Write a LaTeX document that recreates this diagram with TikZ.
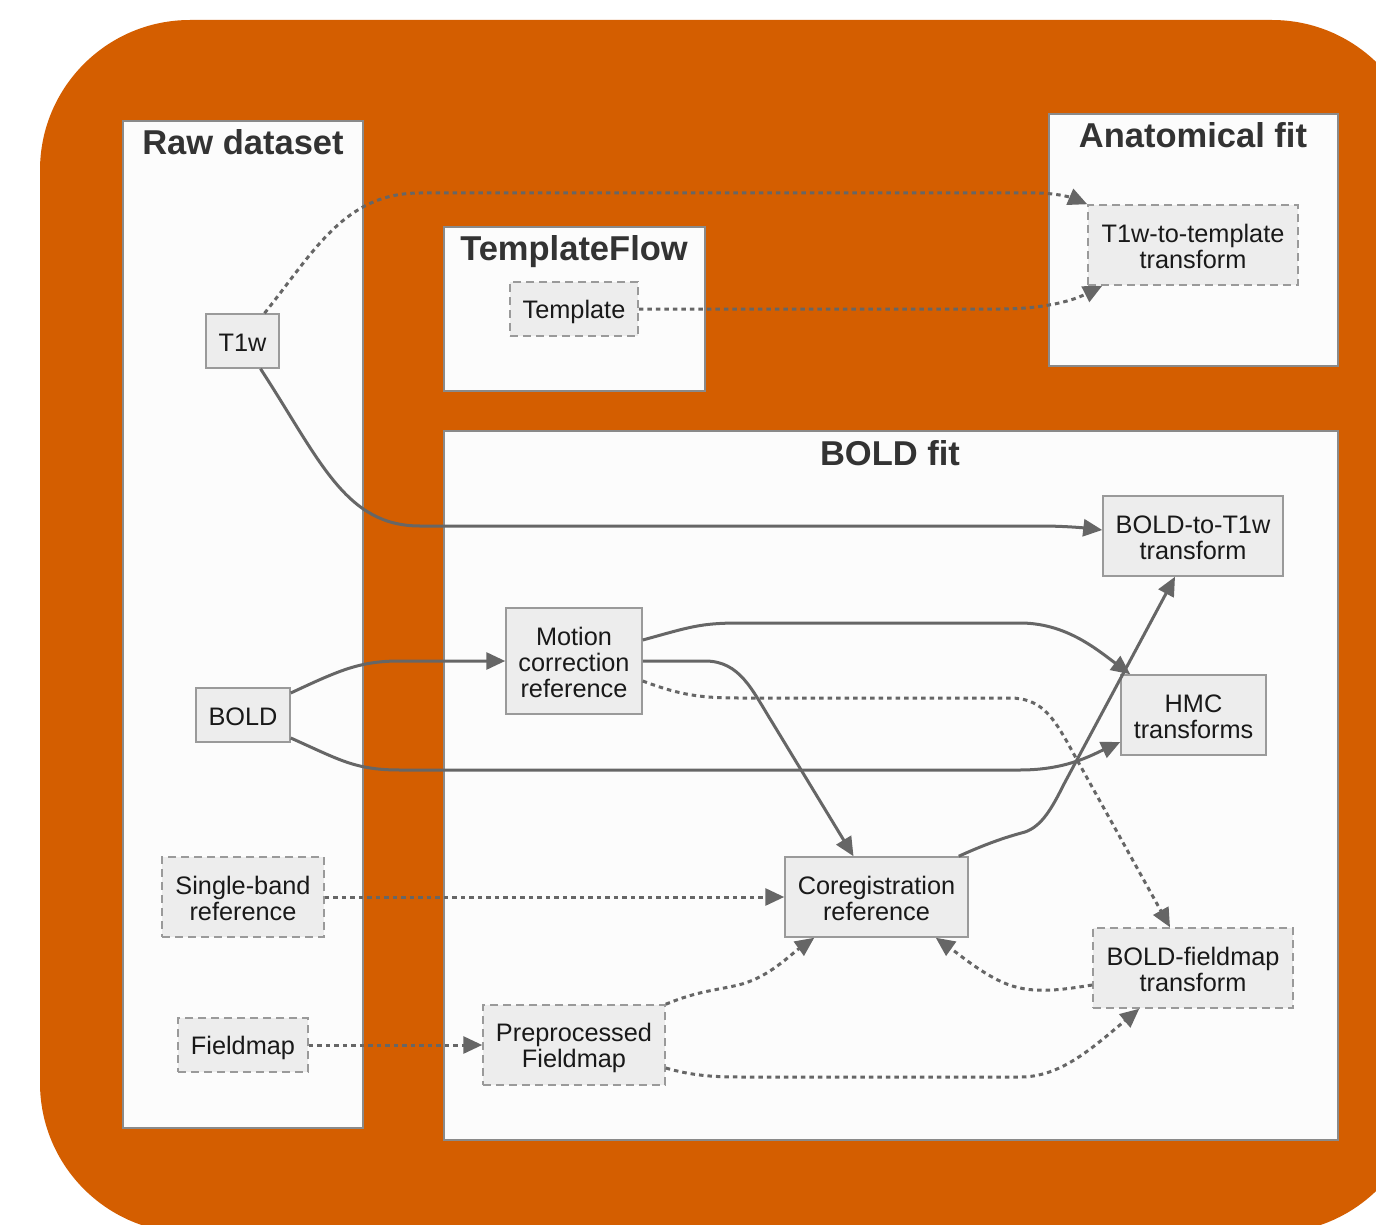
\documentclass[tikz,border=0pt]{standalone}
\usepackage{fontspec}
\setmainfont{Liberation Sans}
\usetikzlibrary{arrows.meta,calc}
\definecolor{orng}{HTML}{D45E00}
\definecolor{edgegray}{HTML}{666666}
\definecolor{boxborder}{HTML}{9A9A9A}
\definecolor{boxfill}{HTML}{EDEDED}
\definecolor{clusterfill}{HTML}{FCFCFC}
\definecolor{clusterborder}{HTML}{8A8A8A}
\definecolor{titlecol}{HTML}{333333}
\newcommand{\nodefont}{\fontsize{25.3}{26}\selectfont}
\newcommand{\titlefont}{\fontsize{34.5}{37}\selectfont\bfseries}
\newcommand{\fl}{\rule{0pt}{25pt}}
\tikzset{
  box/.style={draw=boxborder, line width=1.5pt, fill=boxfill, inner sep=0pt, align=center, font=\nodefont, text=black!90,
    execute at begin node={\fl}, execute at end node={\rule[-4pt]{0pt}{4pt}}},
  dbox/.style={box, dash pattern=on 8pt off 5pt},
  cluster/.style={draw=clusterborder, line width=2pt, fill=clusterfill},
  ctitle/.style={anchor=base, font=\titlefont, text=titlecol, inner sep=0pt},
  edge/.style={draw=edgegray, line width=3pt, -{Triangle[length=19pt,width=17pt]}},
  dedge/.style={edge, dash pattern=on 4.5pt off 4pt},
}
\begin{document}
\begin{tikzpicture}[x=1pt,y=1pt]
\useasboundingbox (0,0) rectangle (1376,-1225);
\fill[white] (0,0) rectangle (1376,-1225);
\begin{scope}
\clip (0,0) rectangle (1376,-1225);
\fill[orng, rounded corners=150pt] (40,-20) rectangle (1422,-1233);
\end{scope}

% clusters
\draw[cluster] (123,-121) rectangle (363,-1128);
\draw[cluster] (1049,-114) rectangle (1338,-366);
\draw[cluster] (444,-227) rectangle (705,-391);
\draw[cluster] (444,-431) rectangle (1338,-1140);
\node[ctitle] (traw) at (243,-155) {Raw dataset};
\node[ctitle] (tanat) at (1193,-148) {Anatomical fit};
\node[ctitle] (ttf) at (574,-261) {TemplateFlow};
\node[ctitle] (tbold) at (890,-465) {BOLD fit};

% nodes
\node[box, minimum width=73pt, minimum height=54pt] (t1w) at (242.5,-341) {T1w};
\node[dbox, minimum width=128pt, minimum height=54pt] (tmpl) at (574,-309) {Template};
\node[dbox, minimum width=210pt, minimum height=80pt] (t2t) at (1193,-245) {\fl T1w-to-template\\transform};
\node[box, minimum width=180pt, minimum height=80pt] (b2t) at (1193,-536) {\fl BOLD-to-T1w\\transform};
\node[box, minimum width=136pt, minimum height=106pt] (mcr) at (574,-661) {\fl Motion\\correction\\reference};
\node[box, minimum width=145pt, minimum height=80pt] (hmc) at (1193.5,-715) {\fl HMC\\transforms};
\node[box, minimum width=94pt, minimum height=54pt] (bold) at (243,-715) {BOLD};
\node[dbox, minimum width=162pt, minimum height=80pt] (sbr) at (243,-897) {\fl Single-band\\reference};
\node[box, minimum width=183pt, minimum height=80pt] (coreg) at (876.5,-897) {\fl Coregistration\\reference};
\node[dbox, minimum width=200pt, minimum height=80pt] (bft) at (1193,-968) {\fl BOLD-fieldmap\\transform};
\node[dbox, minimum width=130pt, minimum height=54pt] (fmap) at (243,-1045) {Fieldmap};
\node[dbox, minimum width=182pt, minimum height=80pt] (pfm) at (574,-1045) {\fl Preprocessed\\Fieldmap};

% edges
\draw[dedge] ([xshift=22pt]t1w.north) .. controls (315,-250) and (345,-193) .. (420,-193)
  -- (1035,-193) .. controls (1060,-193) and (1075,-199) .. (t2t.north west);
\draw[dedge] (tmpl.east) -- (1000,-309) .. controls (1040,-309) and (1070,-302) .. ([xshift=15pt]t2t.south west);
\draw[edge] ([xshift=18pt]t1w.south) .. controls (320,-460) and (345,-526) .. (420,-526)
  -- (1040,-526) .. controls (1065,-526) and (1085,-528) .. ([yshift=6pt]b2t.west);
\draw[edge] ([yshift=22pt]bold.east) .. controls (340,-670) and (360,-661) .. (400,-661) -- (mcr.west);
\draw[edge] ([yshift=-23pt]bold.east) .. controls (340,-760) and (355,-770) .. (400,-770)
  -- (1020,-770) .. controls (1065,-770) and (1090,-756) .. ([yshift=-27pt]hmc.west);
\draw[edge] ([yshift=21pt]mcr.east) .. controls (690,-627) and (700,-623) .. (740,-623)
  -- (1020,-623) .. controls (1065,-623) and (1095,-648) .. ([xshift=10pt]hmc.north west);
\draw[edge] (mcr.east) -- (705,-661) .. controls (740,-661) and (752,-690) .. (772,-722)
  -- ([xshift=-23pt]coreg.north);
\draw[dedge] ([yshift=-20pt]mcr.east) .. controls (680,-695) and (700,-698) .. (740,-698)
  -- (1010,-698) .. controls (1040,-698) and (1052,-716) .. (1066,-740) -- ([xshift=-23pt]bft.north);
\draw[edge] ([xshift=-10pt]coreg.north east) .. controls (990,-842) and (1010,-836) .. (1025,-832)
  .. controls (1042,-826) and (1052,-808) .. (1064,-784) -- ([xshift=-18pt]b2t.south);
\draw[dedge] (sbr.east) -- (coreg.west);
\draw[dedge] (fmap.east) -- (pfm.west);
\draw[dedge] (pfm.north east) .. controls (700,-990) and (720,-990) .. (742,-984)
  .. controls (770,-976) and (790,-955) .. ([xshift=30pt]coreg.south west);
\draw[dedge] ([yshift=-23pt]pfm.east) .. controls (690,-1075) and (710,-1077) .. (740,-1077)
  -- (1020,-1077) .. controls (1060,-1077) and (1090,-1050) .. ([xshift=47pt]bft.south west);
\draw[dedge] ([yshift=-17pt]bft.west) .. controls (1060,-990) and (1030,-995) .. (1002,-982)
  .. controls (980,-972) and (960,-955) .. ([xshift=-33pt]coreg.south east);
\end{tikzpicture}
\end{document}
